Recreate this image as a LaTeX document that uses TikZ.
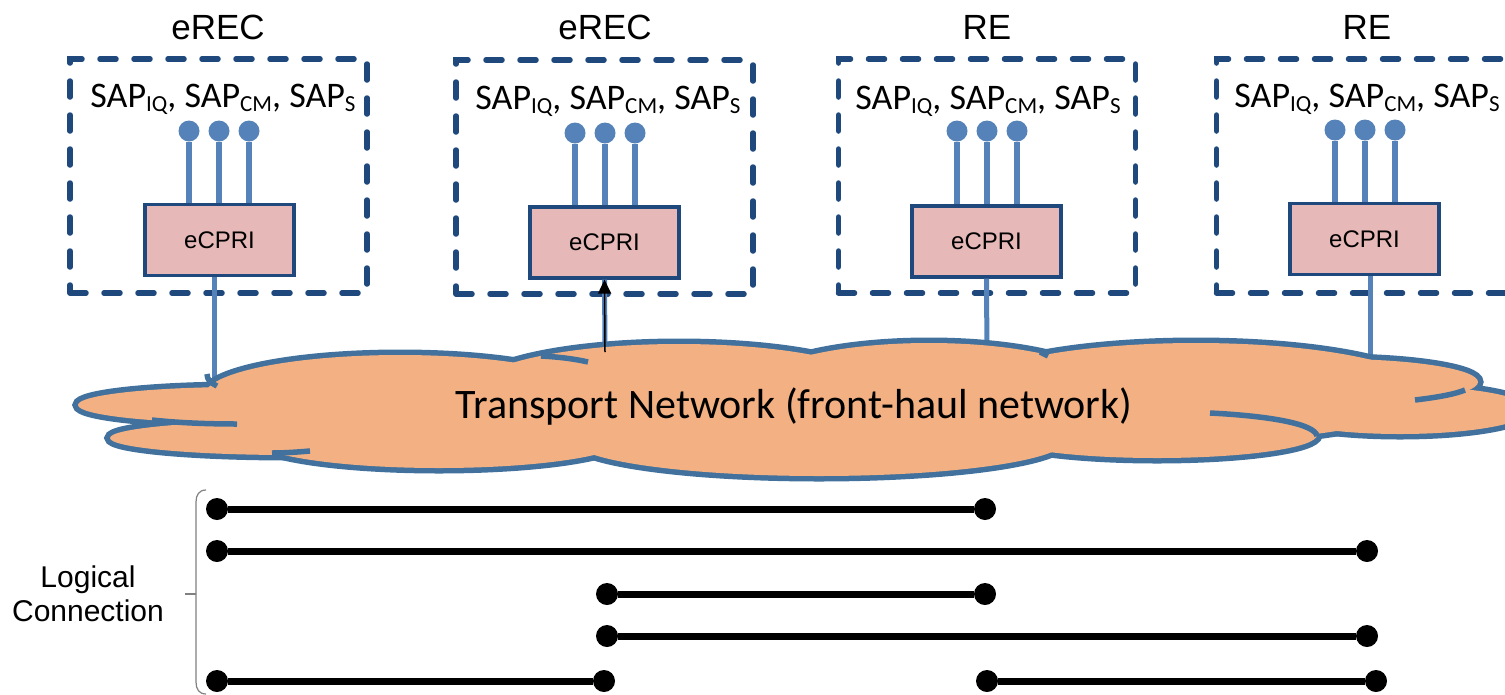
\documentclass[tikz,border=0pt]{standalone}
\usepackage{fontspec}
\setmainfont{Liberation Sans}
\newfontfamily\calibri{Carlito}
\usetikzlibrary{arrows.meta}
\definecolor{boxblue}{RGB}{31,73,125}
\definecolor{sapblue}{RGB}{84,130,185}
\definecolor{ecprired}{RGB}{230,184,183}
\definecolor{cloudorange}{RGB}{243,177,131}
\definecolor{cloudblue}{RGB}{65,113,156}
\newcommand{\sapsub}[1]{\raisebox{-4pt}{\fontsize{23}{23}\selectfont #1}}

\begin{document}
\begin{tikzpicture}[x=1pt,y=-1pt,
  nodebox/.style={draw=boxblue,line width=5.5pt,dash pattern=on 16pt off 18pt,line cap=round,
    minimum width=297pt,minimum height=234pt,inner sep=0pt},
  boxtitle/.style={anchor=base,font=\fontsize{35}{35}\selectfont},
  saptext/.style={anchor=base,font=\calibri\fontsize{36}{36}\selectfont},
  ecpri/.style={draw=boxblue,fill=ecprired,line width=3.2pt,minimum width=149pt,minimum height=71pt,
    font=\fontsize{24}{24}\selectfont},
  sapdot/.style={circle,fill=sapblue,inner sep=0pt,minimum size=21pt},
  sapline/.style={draw=sapblue,line width=6.5pt},
  ldot/.style={circle,fill=black,inner sep=0pt,minimum size=22pt},
  lconn/.style={draw=black,line width=7pt}]
\useasboundingbox (0,0) rectangle (1505,694);

\node[nodebox] (b1) at (218.5,176) {};
\node[nodebox] (b2) at (604.5,177) {};
\node[nodebox] (b3) at (987,176) {};
\node[nodebox] (b4) at (1365,176) {};

\node[boxtitle] (t1) at (218,39) {eREC};
\node[boxtitle] (t2) at (605,39) {eREC};
\node[boxtitle] (t3) at (987,39) {RE};
\node[boxtitle] (t4) at (1367,39) {RE};

\node[saptext] (p1) at (223,107) {SAP\sapsub{IQ}, SAP\sapsub{CM}, SAP\sapsub{S}};
\node[saptext] (p2) at (608,109) {SAP\sapsub{IQ}, SAP\sapsub{CM}, SAP\sapsub{S}};
\node[saptext] (p3) at (988,109) {SAP\sapsub{IQ}, SAP\sapsub{CM}, SAP\sapsub{S}};
\node[saptext] (p4) at (1367,107) {SAP\sapsub{IQ}, SAP\sapsub{CM}, SAP\sapsub{S}};

\node[ecpri] (e1) at (219.5,240) {eCPRI};
\node[ecpri] (e2) at (604.5,242.5) {eCPRI};
\node[ecpri] (e3) at (986.5,241.5) {eCPRI};
\node[ecpri] (e4) at (1364.5,239) {eCPRI};

\node[sapdot] (s1a) at (189,131) {};
\node[sapdot] (s1b) at (219,131) {};
\node[sapdot] (s1c) at (249,131) {};
\draw[sapline] (s1a) -- (s1a |- e1.north) (s1b) -- (s1b |- e1.north) (s1c) -- (s1c |- e1.north);
\node[sapdot] (s2a) at (575,133) {};
\node[sapdot] (s2b) at (605,133) {};
\node[sapdot] (s2c) at (635,133) {};
\draw[sapline] (s2a) -- (s2a |- e2.north) (s2b) -- (s2b |- e2.north) (s2c) -- (s2c |- e2.north);
\node[sapdot] (s3a) at (957,131) {};
\node[sapdot] (s3b) at (987,131) {};
\node[sapdot] (s3c) at (1017,131) {};
\draw[sapline] (s3a) -- (s3a |- e3.north) (s3b) -- (s3b |- e3.north) (s3c) -- (s3c |- e3.north);
\node[sapdot] (s4a) at (1335,130) {};
\node[sapdot] (s4b) at (1365,130) {};
\node[sapdot] (s4c) at (1395,130) {};
\draw[sapline] (s4a) -- (s4a |- e4.north) (s4b) -- (s4b |- e4.north) (s4c) -- (s4c |- e4.north);

\coordinate (n1) at (214,380);
\coordinate (n2) at (605,352);
\coordinate (n3) at (987,360);
\coordinate (n4) at (1370,372);
\draw[sapline,line width=5pt] (e1.south -| n1) -- (n1);
\draw[sapline,line width=5pt] (e2.south) -- (n2);
\draw[sapline,line width=5pt] (e3.south) -- (n3);
\draw[sapline,line width=5pt] (e4.south -| n4) -- (n4);

\foreach \cx/\cy/\rx/\ry in {240/405/162/18,290/438/180/17,400/395/195/40,679/390/206/46,
  929/390/178/47,1196/392/232/49,1335/382/143/23,1400/410/130/24,439/438/188/30,
  819/440/247/36,1157/435/160/23}
  \draw[cloudblue,line width=11pt] (\cx,\cy) ellipse [x radius=\rx pt,y radius=\ry pt];
\foreach \cx/\cy/\rx/\ry in {240/405/162/18,290/438/180/17,400/395/195/40,679/390/206/46,
  929/390/178/47,1196/392/232/49,1335/382/143/23,1400/410/130/24,439/438/188/30,
  819/440/247/36,1157/435/160/23}
  \fill[cloudorange] (\cx,\cy) ellipse [x radius=\rx pt,y radius=\ry pt];
\fill[cloudorange] (790,410) ellipse [x radius=560pt,y radius=30pt];
\draw[cloudblue,line width=5.5pt] (152,420) .. controls (180,423) and (210,424) .. (237,424);
\draw[cloudblue,line width=5.5pt] (272,453) .. controls (285,453) and (298,452) .. (310,451);
\draw[cloudblue,line width=5.5pt] (541,356) .. controls (560,357) and (575,359) .. (588,362);
\draw[cloudblue,line width=5.5pt] (207,374) .. controls (207,380) and (211,383) .. (217,386);
\draw[cloudblue,line width=5.5pt] (1210,413) .. controls (1270,416) and (1315,424) .. (1317,436);
\draw[cloudblue,line width=5.5pt] (1415,400) .. controls (1440,397) and (1455,394) .. (1465,390);
\draw[cloudblue,line width=5.5pt] (1040,352) -- (1048,356);
\node[font=\calibri\fontsize{42}{42}\selectfont] (tn) at (794,407) {Transport Network (front-haul network)};

\draw[-{Triangle[length=14pt,width=13pt]},line width=1.5pt] (n2) -- (e2.south);

\node[align=center,font=\fontsize{30}{34}\selectfont] (lc) at (88,594) {Logical\\Connection};
\draw[gray,line width=1.2pt] (206,490) .. controls (199,490) and (196,495) .. (196,502) -- (196,682)
  .. controls (196,689) and (199,694) .. (206,694);
\draw[gray,line width=1.2pt] (196,594) -- (185,594);

\node[ldot] (r1a) at (217,509) {};
\node[ldot] (r1b) at (985,509) {};
\node[ldot] (r2a) at (217,551) {};
\node[ldot] (r2b) at (1367,551) {};
\node[ldot] (r3a) at (607,594) {};
\node[ldot] (r3b) at (985,594) {};
\node[ldot] (r4a) at (607,636) {};
\node[ldot] (r4b) at (1367,636) {};
\node[ldot] (r5a) at (217,681) {};
\node[ldot] (r5b) at (604,681) {};
\node[ldot] (r5c) at (987,681) {};
\node[ldot] (r5d) at (1376,681) {};
\draw[lconn] (r1a) -- (r1b);
\draw[lconn] (r2a) -- (r2b);
\draw[lconn] (r3a) -- (r3b);
\draw[lconn] (r4a) -- (r4b);
\draw[lconn] (r5a) -- (r5b);
\draw[lconn] (r5c) -- (r5d);
\end{tikzpicture}
\end{document}
